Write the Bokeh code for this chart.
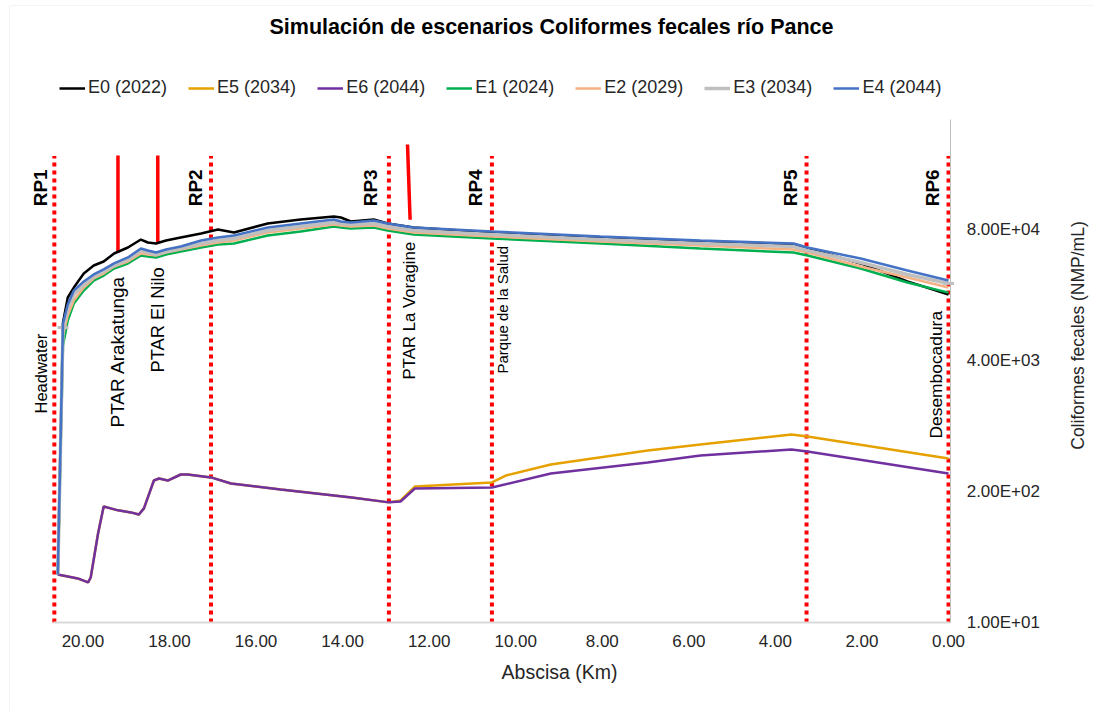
from math import pi
from bokeh.plotting import figure
from bokeh.models import (Range1d, FixedTicker, PrintfTickFormatter, CustomJSTickFormatter,
                          Legend, LegendItem, LabelSet, Label, ColumnDataSource, BoxAnnotation)
from bokeh.embed import file_html
from bokeh.resources import INLINE
from bokeh.core.properties import value, field

# ---------------- texts ----------------
title_text = "Simulación de escenarios Coliformes fecales río Pance"
x_label = "Abscisa (Km)"
y_label = "Coliformes fecales (NMP/mL)"

x_ticks = [0, 2, 4, 6, 8, 10, 12, 14, 16, 18, 20]
y_ticks = [10, 200, 4000, 80000]
y_tick_labels = ["1.00E+01", "2.00E+02", "4.00E+03", "8.00E+04"]

# ---------------- data (km, NMP/mL) ----------------
km_hi = [20.58, 20.46, 20.35, 20.21, 19.98, 19.75, 19.52, 19.28, 18.96, 18.66, 18.50,
         18.31, 18.08, 17.74, 17.27, 16.88, 16.51, 15.73, 14.97, 14.20, 14.04, 13.81,
         13.28, 12.96, 12.36, 10.55, 8.04, 5.73, 3.58, 3.26, 2.03, 0.95, 0.00]

e0 = [30, 9540, 16900, 21200, 29200, 35100, 38500, 46200, 53000, 63600, 59400,
      58100, 62200, 66600, 73000, 80000, 74700, 91800, 100600, 107700, 105300, 96100,
      100600, 91800, 83700, 74700, 66600, 60800, 56800, 51800, 36800, 24400, 18100]
e1 = [30, 5640, 9990, 14700, 19800, 24900, 27900, 32800, 36800, 44100, 43100,
      42200, 45200, 48400, 53000, 56800, 58100, 69700, 76400, 85700, 83700, 81900,
      83700, 78200, 71400, 65100, 58100, 51800, 47300, 44100, 32800, 23800, 18900]
e2 = [30, 7090, 11200, 15800, 21200, 26100, 29200, 34300, 38500, 46200, 45200,
      44100, 47300, 50600, 55500, 59400, 62200, 74700, 81900, 89700, 87700, 85700,
      87700, 81900, 74700, 68200, 60800, 55500, 50600, 47300, 34300, 26700, 21200]
e3 = [30, 8510, 13100, 18100, 22700, 27300, 30600, 35100, 40300, 49500, 47300,
      45200, 48400, 51800, 58100, 62200, 65100, 78200, 85700, 93900, 91800, 89700,
      91800, 85700, 78200, 71400, 63600, 58100, 54200, 49500, 37600, 28600, 23300]
e4 = [30, 9320, 14400, 19800, 24400, 28600, 32100, 36800, 42200, 51800, 49500,
      47300, 50600, 54200, 62200, 66600, 69700, 83700, 91800, 100600, 96100, 93900,
      98300, 91800, 83700, 76400, 68200, 62200, 58100, 53000, 41200, 31300, 24900]

km_e5 = [20.58, 20.12, 19.88, 19.82, 19.65, 19.52, 19.19, 18.89, 18.71, 18.59, 18.36,
         18.24, 18.04, 17.74, 17.58, 17.04, 16.58, 15.43, 13.79, 12.93, 12.66, 12.33,
         10.55, 10.23, 9.19, 6.95, 5.73, 3.63, 3.26, 0.00]
e5 = [30.0, 27.4, 25.0, 28.0, 76.5, 142, 130, 124, 118, 136, 257,
      269, 257, 295, 295, 276, 240, 209, 174, 156, 163, 224,
      246, 288, 371, 511, 586, 737, 704, 425]

km_e6 = [20.58, 20.12, 19.88, 19.82, 19.65, 19.52, 19.19, 18.89, 18.71, 18.59, 18.36,
         18.24, 18.04, 17.74, 17.58, 17.04, 16.58, 15.43, 13.79, 12.93, 12.66, 12.33,
         10.55, 9.19, 6.95, 5.73, 3.63, 3.26, 0.00]
e6 = [30.0, 27.4, 25.0, 28.0, 76.5, 142, 130, 124, 118, 136, 257,
      269, 257, 295, 295, 276, 240, 209, 174, 156, 159, 214,
      219, 302, 388, 456, 523, 499, 302]

series_names = ["E0 (2022)", "E5 (2034)", "E6 (2044)", "E1 (2024)", "E2 (2029)", "E3 (2034)", "E4 (2044)"]

# reference points (RP) and discharge points (PTAR)
rp_km = [20.66, 17.04, 12.93, 10.55, 3.28, 0.0]
rp_names = ["RP1", "RP2", "RP3", "RP4", "RP5", "RP6"]
rp_label_km = [20.97, 17.39, 13.35, 10.92, 3.65, 0.37]
rp_top = 430000
rp_bottom = 10
rp_label_y = 136000

ptar_km_top = [19.19, 18.27, 12.50]
ptar_km_bottom = [19.19, 18.27, 12.44]
ptar_top = [434500, 434500, 558800]
ptar_bottom = [47300, 59400, 99900]

site_names = ["Headwater", "PTAR Arakatunga", "PTAR El Nilo", "PTAR La Voragine",
              "Parque de la Salud", "Desembocadura"]
site_km = [20.97, 19.19, 18.27, 12.45, 10.30, 0.30]
site_y = [1190, 864, 3040, 2590, 2970, 672]
site_size = ["16.5px", "19px", "18.3px", "16.8px", "15px", "17.4px"]

FONT = "Liberation Sans"
TXT = "#262626"

# the plot frame covers the whole canvas; axes are pinned with fixed_location
p = figure(width=1094, height=711, title=None,
           x_range=Range1d(21.904, -3.373), y_range=Range1d(1.3065, 1.5046e7),
           y_axis_type="log", y_axis_location="right",
           output_backend="svg", toolbar_location=None,
           min_border_left=0, min_border_right=0, min_border_top=0, min_border_bottom=0)
p.xgrid.visible = False
p.ygrid.visible = False
p.outline_line_color = None

# chart border
p.add_layout(BoxAnnotation(left=21.696, right=-3.6, top=1.342e7, bottom=1.0,
                           fill_alpha=0, line_color="#D9D9D9", line_width=1))

# axes
xa = p.xaxis[0]
xa.fixed_location = 10
xa.ticker = FixedTicker(ticks=x_ticks)
xa.formatter = PrintfTickFormatter(format="%.2f")
xa.bounds = (-0.05, 20.69)
xa.major_label_text_font = FONT
xa.major_label_text_font_size = "17px"
xa.major_label_text_color = TXT
xa.axis_line_color = "#D9D9D9"
xa.axis_line_width = 2
xa.major_tick_out = 0
xa.major_tick_in = 0
xa.minor_tick_out = 0
xa.minor_tick_in = 0
xa.major_label_standoff = 12

ya = p.yaxis[0]
ya.fixed_location = -0.05
ya.ticker = FixedTicker(ticks=y_ticks)
ya.bounds = (10, 1e6)
ya.formatter = CustomJSTickFormatter(args=dict(tvals=y_ticks, tlabels=y_tick_labels), code="""
    for (let i = 0; i < tvals.length; i++) {
        if (Math.abs(tvals[i] - tick) < 1e-6 * tvals[i]) return tlabels[i];
    }
    return '';
""")
ya.major_label_text_font = FONT
ya.major_label_text_font_size = "17px"
ya.major_label_text_color = TXT
ya.axis_line_color = "#BFBFBF"
ya.axis_line_width = 1
ya.major_tick_out = 0
ya.major_tick_in = 0
ya.minor_tick_out = 0
ya.minor_tick_in = 0
ya.major_label_standoff = 16

# vertical reference lines
p.segment(x0=rp_km, y0=[rp_bottom] * len(rp_km), x1=rp_km, y1=[rp_top] * len(rp_km),
          line_color="#FF0000", line_width=4, line_dash="4 4")
p.segment(x0=ptar_km_top, y0=ptar_top, x1=ptar_km_bottom, y1=ptar_bottom,
          line_color="#FF0000", line_width=3.5)

# series
r_e0 = p.line(km_hi, e0, line_color="#000000", line_width=2.5)
r_e5 = p.line(km_e5, e5, line_color="#E6A100", line_width=2.5)
r_e6 = p.line(km_e6, e6, line_color="#7030A0", line_width=2.5)
r_e1 = p.line(km_hi, e1, line_color="#00B050", line_width=2.5)
r_e2 = p.line(km_hi, e2, line_color="#F4B183", line_width=2.5)
r_e3 = p.line(km_hi, e3, line_color="#BFBFBF", line_width=3.5)
r_e3m = p.scatter([km_hi[1], km_hi[-1]], [e3[1], e3[-1]], marker="dash", size=11,
                  line_color="#BFBFBF", line_width=3)
r_e4 = p.line(km_hi, e4, line_color="#4472C4", line_width=2.5)

renderers = [[r_e0], [r_e5], [r_e6], [r_e1], [r_e2], [r_e3, r_e3m], [r_e4]]
legend = Legend(items=[LegendItem(label=n, renderers=r) for n, r in zip(series_names, renderers)],
                location=(59, 613), orientation="horizontal",
                glyph_width=26, glyph_height=20, label_height=20, label_standoff=3,
                spacing=21, padding=0, margin=0,
                border_line_color=None, background_fill_alpha=0,
                label_text_font=FONT, label_text_font_size="18px", label_text_color=TXT)
p.add_layout(legend)

# title and axis titles
p.add_layout(Label(x=9.173, y=8.30e6, text=title_text, text_align="center", text_baseline="middle",
                   text_font=FONT, text_font_style="bold", text_font_size="21.5px",
                   text_color="#000000"))
p.add_layout(Label(x=8.988, y=3.26, text=x_label, text_align="center", text_baseline="middle",
                   text_font=FONT, text_font_size="19.5px", text_color=TXT))
p.add_layout(Label(x=-3.0, y=7086, text=y_label, angle=pi / 2, text_align="center",
                   text_baseline="middle", text_font=FONT, text_font_size="17.5px",
                   text_color=TXT))

# rotated annotations inside the plot area
rp_src = ColumnDataSource(dict(x=rp_label_km, y=[rp_label_y] * len(rp_label_km), text=rp_names))
p.add_layout(LabelSet(x="x", y="y", text="text", source=rp_src, angle=pi / 2,
                      text_align="left", text_baseline="middle",
                      text_font=value(FONT), text_font_style="bold",
                      text_font_size="19px", text_color="#000000"))
site_src = ColumnDataSource(dict(x=site_km, y=site_y, text=site_names, fsize=site_size))
p.add_layout(LabelSet(x="x", y="y", text="text", source=site_src, angle=pi / 2,
                      text_align="left", text_baseline="middle",
                      text_font=value(FONT), text_font_size=field("fsize"),
                      text_color="#000000"))

open("out.html", "w").write(file_html(p, INLINE))
